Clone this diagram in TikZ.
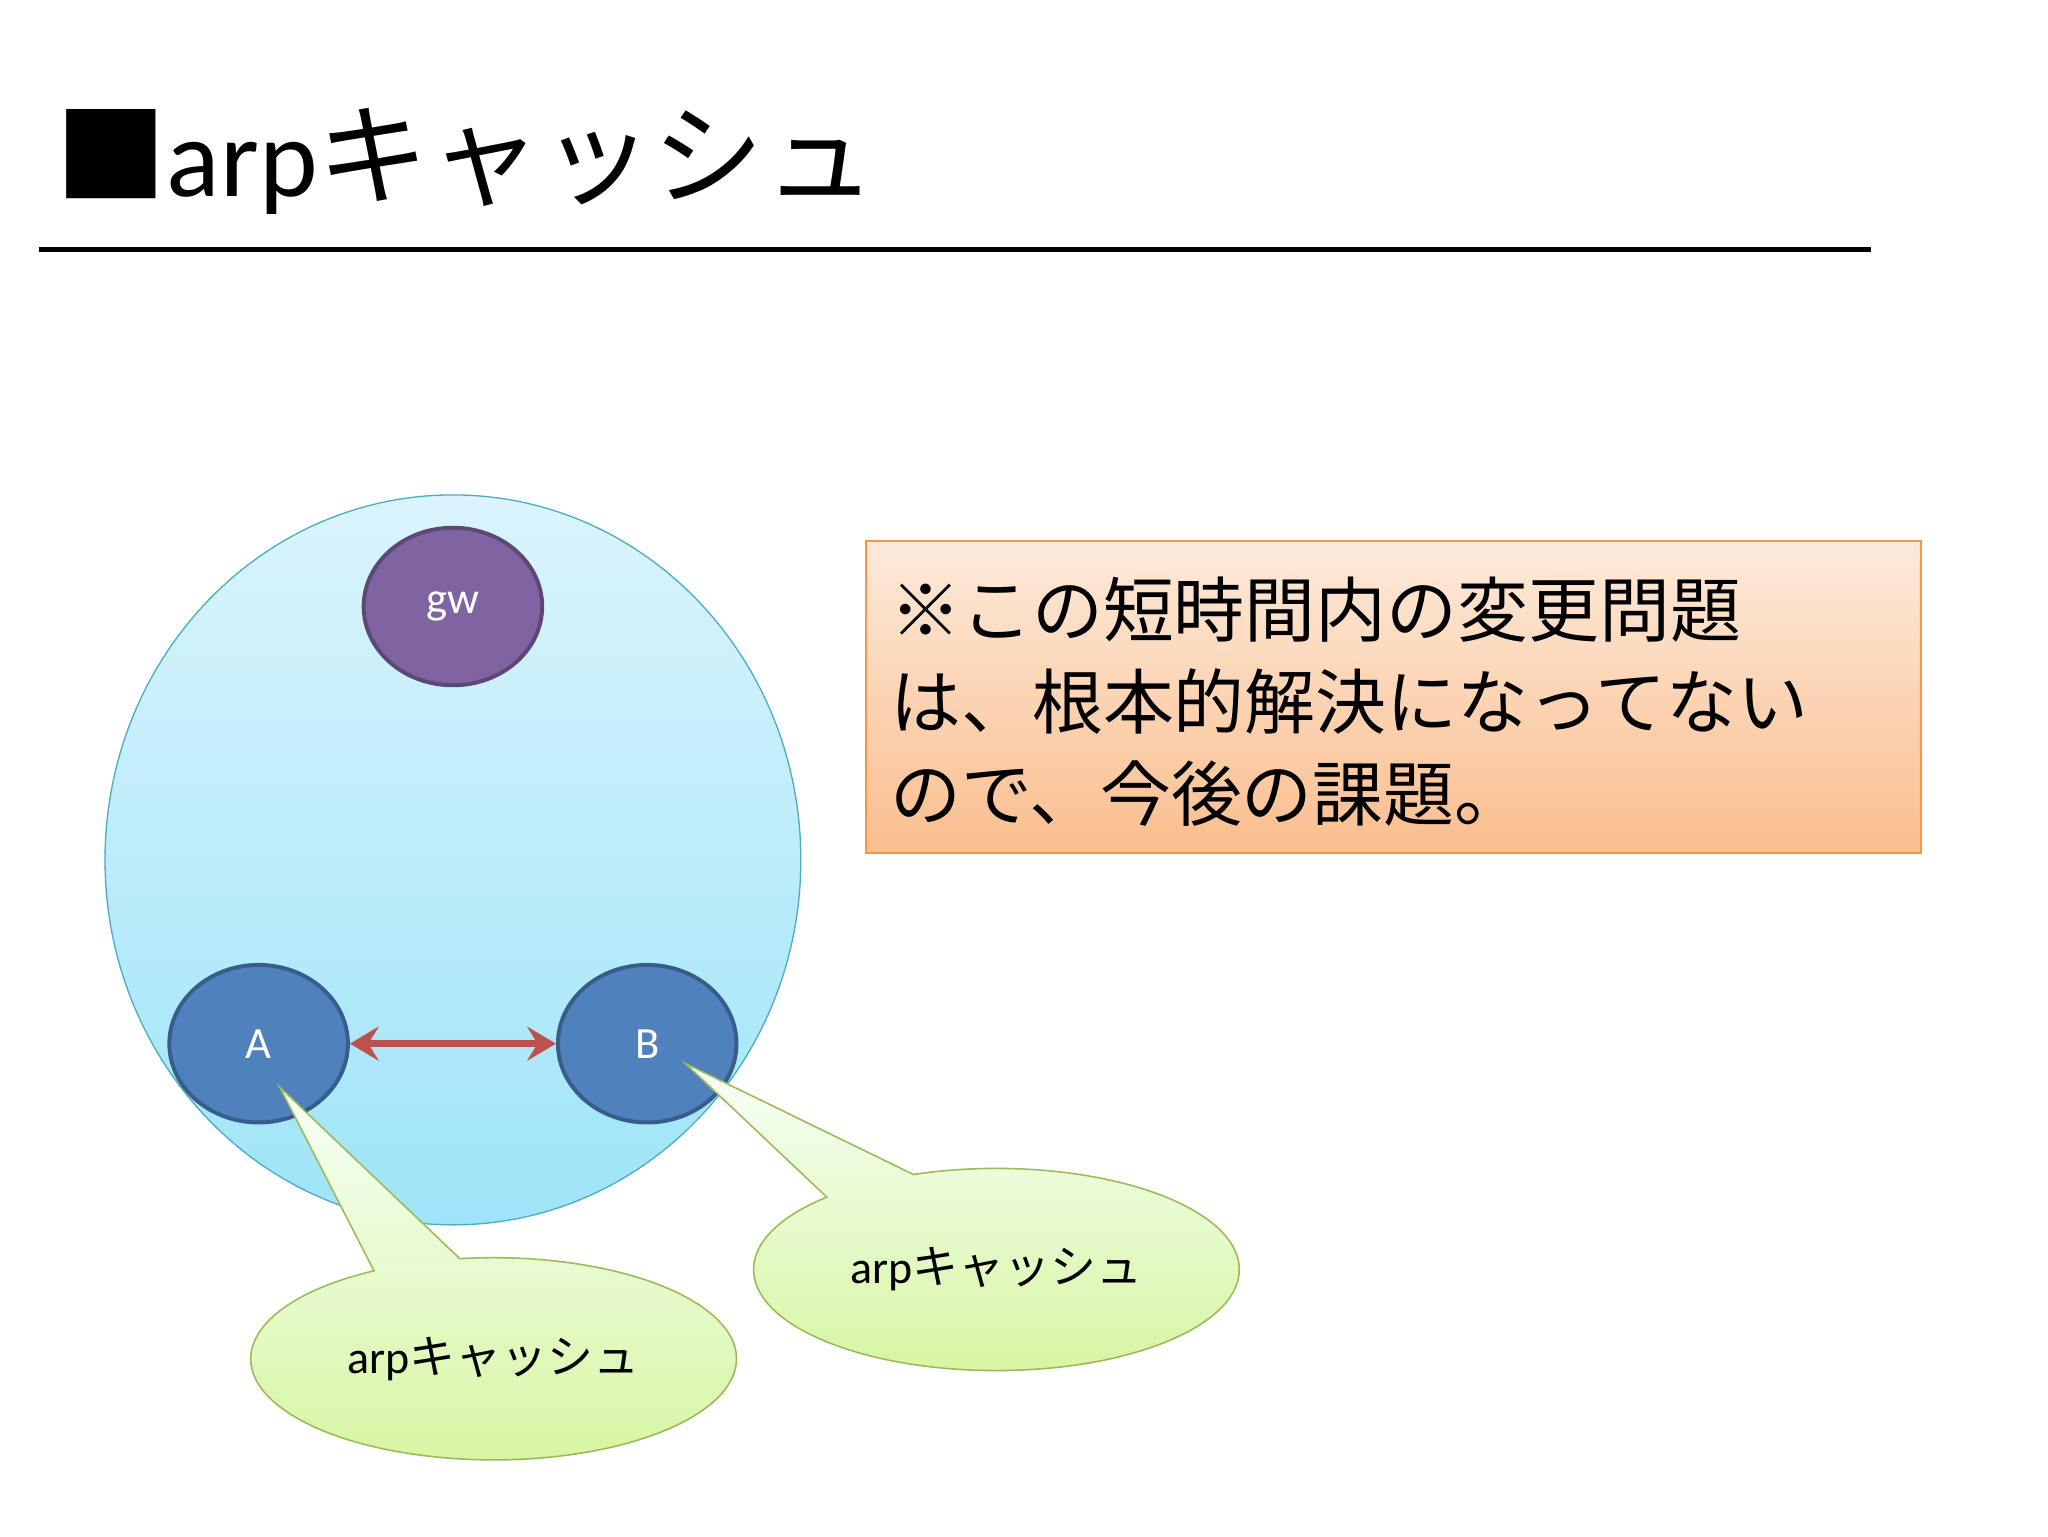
\documentclass[tikz,border=0pt]{standalone}
\usepackage{fontspec}
\setmainfont{Carlito}
\newfontfamily\jp{Noto Sans CJK JP}
\usetikzlibrary{shapes.geometric,arrows.meta}
\tikzset{
  dev/.style={ellipse,draw,line width=3pt,minimum width=136pt,minimum height=120pt,text=white,font=\fontsize{34}{34}\selectfont},
  callout/.style={top color=green!3!white,bottom color={rgb,255:red,214;green,245;blue,160},draw={rgb,255:red,155;green,187;blue,89},line width=1.2pt},
  ctext/.style={font=\fontsize{35}{35}\selectfont}
}
\begin{document}
\begin{tikzpicture}[x=1pt,y=1pt]
\useasboundingbox (0,0) rectangle (1560,1170);
\fill[white] (0,0) rectangle (1560,1170);
% title
\node[anchor=base west,inner sep=0,font=\fontsize{85}{85}\selectfont] (title) at (42,1020) {{\jp ■}arp{\jp キャッシュ}};
\coordinate (l1) at (30,980); \coordinate (l2) at (1425,980);
\draw[line width=4pt] (l1) -- (l2);
% big circle
\node[ellipse,minimum width=530pt,minimum height=556pt,top color={rgb,255:red,218;green,244;blue,252},bottom color={rgb,255:red,158;green,228;blue,248},draw={rgb,255:red,75;green,172;blue,198},line width=1pt] (net) at (345,515) {};
\node[dev,fill={rgb,255:red,128;green,100;blue,162},draw={rgb,255:red,92;green,71;blue,118}] (gw) at (345,708) {gw};
\node[dev,fill={rgb,255:red,79;green,129;blue,189},draw={rgb,255:red,56;green,93;blue,138}] (A) at (197,375) {A};
\node[dev,fill={rgb,255:red,79;green,129;blue,189},draw={rgb,255:red,56;green,93;blue,138}] (B) at (493,375) {B};
\draw[{Stealth[length=22pt,width=26pt,inset=8pt]}-{Stealth[length=22pt,width=26pt,inset=8pt]},line width=5pt,draw={rgb,255:red,192;green,80;blue,77}] (A) -- (B);
% callouts
\coordinate (t1) at (213,342);
\shade[callout] (350.3,211.2) -- (t1) -- (284.9,202) arc[start angle=119.5,end angle=458,x radius=185,y radius=77] -- cycle;
\node[ctext] (c1) at (376,135) {arp{\jp キャッシュ}};
\coordinate (t2) at (522,360);
\shade[callout] (695.7,275.4) -- (t2) -- (629.8,258.1) arc[start angle=134.3,end angle=470,x radius=185,y radius=77] -- cycle;
\node[ctext] (c2) at (759,203) {arp{\jp キャッシュ}};
% note box
\shade[top color={rgb,255:red,253;green,234;blue,218},bottom color={rgb,255:red,250;green,190;blue,142},draw={rgb,255:red,247;green,150;blue,70},line width=1.5pt] (660,520) rectangle (1463,758);
\node[anchor=base west,inner sep=0,font=\jp\fontsize{54}{70}\selectfont,align=left] (note) at (678,545) {※この短時間内の変更問題\\は、根本的解決になってない\\ので、今後の課題。};
\end{tikzpicture}
\end{document}
